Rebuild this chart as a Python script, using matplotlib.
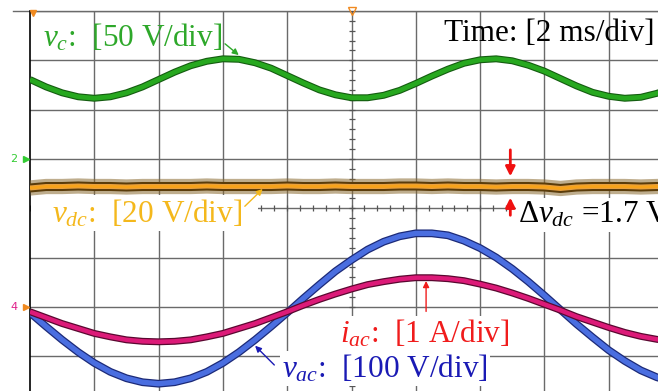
import matplotlib
matplotlib.use("Agg")
import matplotlib.pyplot as plt
from matplotlib.patches import Rectangle
import numpy as np

plt.rcParams['font.family'] = ['Liberation Serif', 'DejaVu Serif']
plt.rcParams['mathtext.fontset'] = 'custom'
plt.rcParams['mathtext.rm'] = 'Liberation Serif'
plt.rcParams['mathtext.it'] = 'Liberation Serif:italic'
plt.rcParams['mathtext.fallback'] = 'stix'

# time axis in scope divisions (2 ms/div), one sample every quarter division
t_div = np.arange(0, 10.01, 0.25)

# traces, in vertical divisions (0 = screen centre)
v_c = [2.61, 2.46, 2.34, 2.26, 2.23, 2.26, 2.34, 2.46, 2.61, 2.76,
       2.89, 2.98, 3.03, 3.02, 2.95, 2.84, 2.69, 2.54, 2.40, 2.30,
       2.24, 2.24, 2.29, 2.39, 2.53, 2.68, 2.82, 2.94, 3.01, 3.03,
       2.99, 2.90, 2.78, 2.63, 2.48, 2.35, 2.27, 2.23, 2.25, 2.33, 2.45]
v_dc = [0.41, 0.44, 0.44, 0.45, 0.44, 0.44, 0.43, 0.44, 0.44, 0.44,
        0.44, 0.45, 0.44, 0.44, 0.44, 0.44, 0.45, 0.44, 0.44, 0.45,
        0.44, 0.44, 0.44, 0.45, 0.45, 0.44, 0.45, 0.44, 0.44, 0.43,
        0.44, 0.44, 0.43, 0.40, 0.43, 0.44, 0.44, 0.44, 0.43, 0.44, 0.44]
v_ac = [-2.12, -2.40, -2.67, -2.92, -3.14, -3.32, -3.45, -3.53, -3.56, -3.53,
        -3.45, -3.32, -3.14, -2.92, -2.67, -2.40, -2.12, -1.83, -1.55, -1.28,
        -1.05, -0.84, -0.68, -0.57, -0.51, -0.51, -0.55, -0.66, -0.81, -1.00,
        -1.23, -1.49, -1.77, -2.06, -2.35, -2.62, -2.88, -3.10, -3.29, -3.43, -3.52]
i_ac = [-2.10, -2.22, -2.34, -2.44, -2.54, -2.61, -2.67, -2.70, -2.71, -2.70,
        -2.67, -2.61, -2.54, -2.44, -2.34, -2.22, -2.10, -1.97, -1.85, -1.74,
        -1.64, -1.55, -1.49, -1.44, -1.41, -1.41, -1.43, -1.47, -1.54, -1.62,
        -1.72, -1.83, -1.95, -2.07, -2.20, -2.31, -2.42, -2.52, -2.60, -2.66, -2.70]

fig = plt.figure(figsize=(6.58, 3.91), dpi=100)
ax = fig.add_axes([30/658, -14.4/391, 643/658, 394.4/391])
ax.set_xlim(0, 10)
ax.set_ylim(-4, 4)
for s in ['top', 'right', 'bottom']:
    ax.spines[s].set_visible(False)
ax.spines['left'].set_color('black')
ax.spines['left'].set_linewidth(1.2)
ax.set_xticks([])
ax.set_yticks([])

# scope graticule
for gx in range(1, 10):
    ax.axvline(gx, color='#6a6a6a', lw=1.0, zorder=1)
for gy in range(-3, 5):
    ax.axhline(gy, color='#6a6a6a', lw=1.0, zorder=1)
ax.plot([-0.27, 10], [4, 4], color='#6a6a6a', lw=1.0, clip_on=False, zorder=1)
minor = np.arange(-4, 4.01, 0.2)
ax.plot(np.full_like(minor, 5), minor, ls='none', marker='_', ms=4.5, mew=0.9,
        color='#555555', zorder=1)
minor_x = np.arange(0, 10.01, 0.2)
ax.plot(minor_x, np.zeros_like(minor_x), ls='none', marker='|', ms=4.5, mew=0.9,
        color='#555555', zorder=1)

# white patch behind the v_dc label (it hides the graticule there)
ax.add_patch(Rectangle((0.02, -0.44), 3.53, 0.68, facecolor='white',
                       edgecolor='none', zorder=2))

# traces (dark under-stroke stands in for the scope noise)
ax.plot(t_div, v_c, color='#145c10', lw=5.0, zorder=3, solid_capstyle='butt')
ax.plot(t_div, v_c, color='#27a81f', lw=3.4, zorder=3, solid_capstyle='butt')
ax.plot(t_div, v_dc, color='#8a6a30', lw=11.0, alpha=0.55, zorder=3, solid_capstyle='butt')
ax.plot(t_div, v_dc, color='#5a3c0a', lw=6.5, zorder=3, solid_capstyle='butt')
ax.plot(t_div, v_dc, color='#e8a040', lw=3.6, zorder=3, solid_capstyle='butt')
ax.plot(t_div, v_dc, color='#f7a31a', lw=2.0, zorder=3, solid_capstyle='butt')
ax.plot(t_div, v_ac, color='#1c2a78', lw=5.6, zorder=3, solid_capstyle='butt')
ax.plot(t_div, v_ac, color='#4a6ee0', lw=3.8, zorder=3, solid_capstyle='butt')
ax.plot(t_div, i_ac, color='#5a0830', lw=5.0, zorder=4, solid_capstyle='butt')
ax.plot(t_div, i_ac, color='#dc1a78', lw=3.2, zorder=4, solid_capstyle='butt')

# channel / trigger markers
ax.plot([5], [4], marker='v', ms=6, mfc='none', mec='#f08a20', clip_on=False, zorder=5)
ax.plot([0.05], [3.96], marker='v', ms=5, color='#f08a20', clip_on=False, zorder=5)
ax.plot([-0.06], [1.0], marker='>', ms=5, color='#33cc33', clip_on=False, zorder=5)
ax.text(-0.2, 1.0, '2', color='#33cc33', fontsize=8, fontfamily='DejaVu Sans',
        ha='right', va='center', clip_on=False)
ax.plot([-0.06], [-2.0], marker='>', ms=5, color='#f08a20', clip_on=False, zorder=5)
ax.text(-0.2, -2.0, '4', color='#e0208a', fontsize=8, fontfamily='DejaVu Sans',
        ha='right', va='center', clip_on=False)

box = dict(facecolor='white', edgecolor='none', pad=1.5)
fs = 22.5
ax.text(0.20, 3.29, r'$v_{c}$:  [50 V/div]', color='#2ea82a', fontsize=fs,
        va='baseline', ha='left', zorder=6)
ax.text(9.72, 3.39, 'Time: [2 ms/div]', color='black', fontsize=fs,
        va='baseline', ha='right', zorder=6)
ax.text(0.34, -0.28, r'$v_{dc}$:  [20 V/div]', color='#f4b81c', fontsize=fs,
        va='baseline', ha='left', bbox=box, zorder=6)
ax.text(7.59, -0.30, r'$\Delta v_{dc}$ =1.7 V', color='black', fontsize=fs,
        va='baseline', ha='left', bbox=box, zorder=6)
ax.text(4.82, -2.72, r'$i_{ac}$:  [1 A/div]', color='#f01c1c', fontsize=fs,
        va='baseline', ha='left', bbox=box, zorder=6)
ax.text(3.92, -3.43, r'$v_{ac}$:  [100 V/div]', color='#1a1ab4', fontsize=fs,
        va='baseline', ha='left', bbox=box, zorder=6)

# pointer arrows
thin = dict(arrowstyle='-|>', lw=1.0, mutation_scale=9)
ax.annotate('', xy=(3.28, 3.07), xytext=(3.00, 3.37),
            arrowprops=dict(thin, color='#2ea82a'), zorder=7)
ax.annotate('', xy=(3.65, 0.43), xytext=(3.31, 0.0),
            arrowprops=dict(thin, color='#f4b81c'), zorder=7)
ax.annotate('', xy=(6.16, -1.42), xytext=(6.16, -2.15),
            arrowprops=dict(thin, color='#f01c1c'), zorder=7)
ax.annotate('', xy=(3.47, -2.75), xytext=(3.83, -3.22),
            arrowprops=dict(thin, color='#1a1ab4'), zorder=7)
thick = dict(arrowstyle='-|>', lw=2.0, mutation_scale=14, color='#f01010')
ax.annotate('', xy=(7.47, 0.59), xytext=(7.47, 1.24), arrowprops=thick, zorder=7)
ax.annotate('', xy=(7.47, 0.27), xytext=(7.47, -0.20), arrowprops=thick, zorder=7)

fig.savefig('out.png', dpi=100)
